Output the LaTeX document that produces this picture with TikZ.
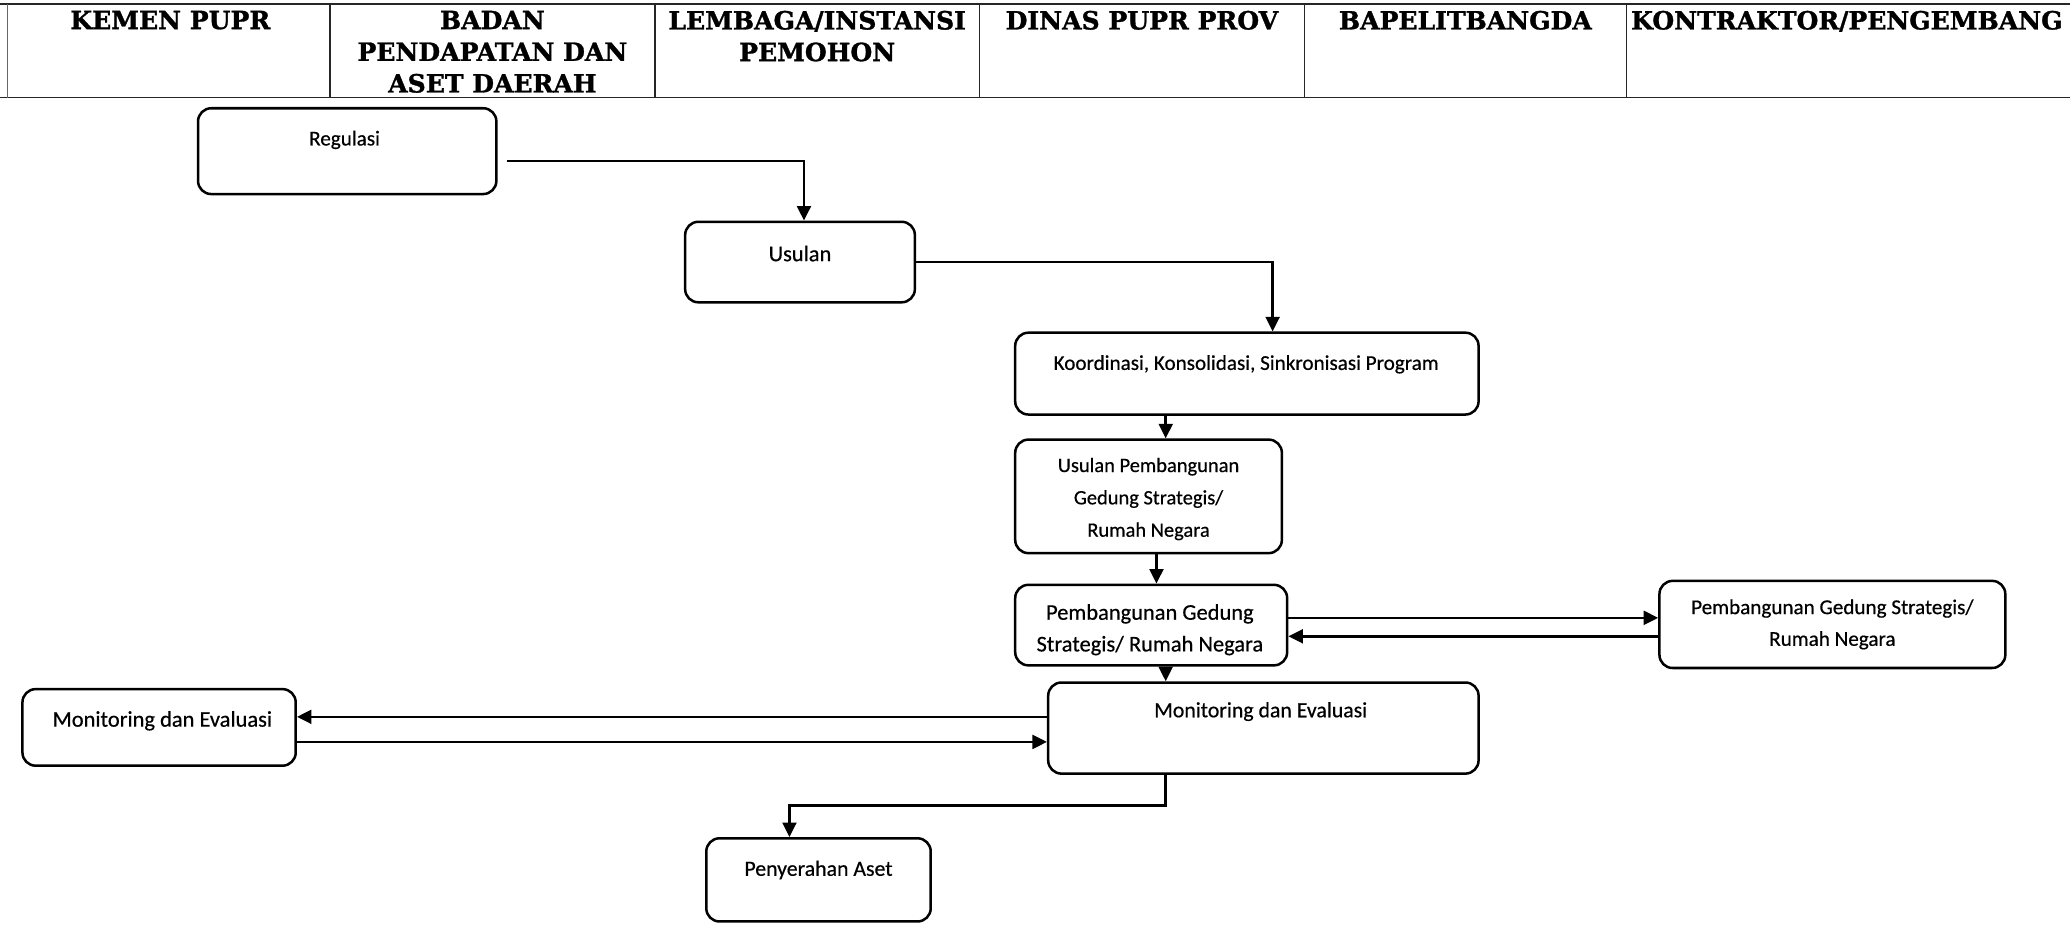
\documentclass[tikz,border=0pt]{standalone}
\usepackage{fontspec}
\setmainfont{Carlito}[FakeBold=0.5]
\newfontfamily\headfont{DejaVu Serif}[BoldFeatures={FakeBold=1.2}]
\usetikzlibrary{arrows.meta,calc}
\begin{document}
\begin{tikzpicture}[x=1pt,y=-1pt,
  lanerule/.style={line width=1.1pt,draw=black!85},
  headtxt/.style={font=\headfont\bfseries\fontsize{19}{24}\selectfont,align=center,anchor=north,inner sep=0pt},
  procbox/.style={draw,line width=1.9pt,rounded corners=10pt,inner sep=0pt},
  boxtxt/.style={font=\fontsize{16}{25}\selectfont,align=center,inner sep=0pt},
  conn/.style={line width=1.9pt,-{Triangle[length=11pt,width=10.5pt]}}]
\useasboundingbox (0,0) rectangle (1568,700);

% swimlane header
\draw[lanerule] (0,3) -- (1568,3);
\draw[lanerule] (0,74) -- (1568,74);
\draw[lanerule,line width=0.7pt,draw=black!60] (6,3) -- (6,74);
\foreach \xx in {250,496,742,988,1232}
  \draw[lanerule] (\xx,3) -- (\xx,74);

\node[headtxt] (h1) at (129,8) {KEMEN PUPR};
\node[headtxt] (h2) at (373,8) {BADAN\\PENDAPATAN DAN\\ASET DAERAH};
\node[headtxt] (h3) at (619,8) {LEMBAGA/INSTANSI\\PEMOHON};
\node[headtxt] (h4) at (865,8) {DINAS PUPR PROV};
\node[headtxt] (h5) at (1110,8) {BAPELITBANGDA};
\node[headtxt] (h6) at (1399,8) {KONTRAKTOR/PENGEMBANG};

% process boxes
\node[procbox,minimum width=226pt,minimum height=65pt] (reg) at (263,114.5) {};
\node[boxtxt] (regT) at (261,106) {Regulasi};

\node[procbox,minimum width=174pt,minimum height=61pt] (usl) at (606,198.5) {};
\node[boxtxt,font=\fontsize{17}{25}\selectfont] (uslT) at (606,192) {Usulan};

\node[procbox,minimum width=351pt,minimum height=62pt] (koo) at (944.5,283) {};
\node[boxtxt] (kooT) at (944,276) {Koordinasi, Konsolidasi, Sinkronisasi Program};

\node[procbox,minimum width=202pt,minimum height=86pt] (upg) at (870,376) {};
\node[boxtxt,font=\fontsize{15.5}{24.5}\selectfont] (upgT) at (870,378) {Usulan Pembangunan\\Gedung Strategis/\\Rumah Negara};

\node[procbox,minimum width=206pt,minimum height=61pt] (pgl) at (872,473.5) {};
\node[boxtxt,font=\fontsize{17}{24}\selectfont] (pglT) at (871,477) {Pembangunan Gedung\\Strategis/ Rumah Negara};

\node[procbox,minimum width=262pt,minimum height=66pt] (pgr) at (1388,473) {};
\node[boxtxt,font=\fontsize{16}{24}\selectfont] (pgrT) at (1388,473) {Pembangunan Gedung Strategis/\\Rumah Negara};

\node[procbox,minimum width=326pt,minimum height=69pt] (mec) at (957,551.5) {};
\node[boxtxt,font=\fontsize{16.5}{24}\selectfont] (mecT) at (955,539) {Monitoring dan Evaluasi};

\node[procbox,minimum width=207pt,minimum height=58pt] (mel) at (120.5,551) {};
\node[boxtxt,font=\fontsize{17}{24}\selectfont] (melT) at (123,546) {Monitoring dan Evaluasi};

\node[procbox,minimum width=170pt,minimum height=63pt] (pen) at (620,666.5) {};
\node[boxtxt,font=\fontsize{16.5}{24}\selectfont] (penT) at (620,659) {Penyerahan Aset};

% connectors
\draw[conn] ([shift={(7,7.5)}]reg.east) -| ([xshift=3pt]usl.north);
\draw[conn] (usl.east) -| ([xshift=19.5pt]koo.north);
\draw[conn] (koo.south -| 883,0) -- (upg.north -| 883,0);
\draw[conn] (upg.south -| 876,0) -- (pgl.north -| 876,0);
\draw[conn] (pgl.east |- 0,468) -- (pgr.west |- 0,468);
\draw[conn] (pgr.west |- 0,482) -- (pgl.east |- 0,482);
\draw[conn] (pgl.south -| 883,0) -- (mec.north -| 883,0);
\draw[conn] (mec.west |- 0,543) -- (mel.east |- 0,543);
\draw[conn] (mel.east |- 0,562) -- (mec.west |- 0,562);
\coordinate (bend) at (883,610);
\draw[conn] (mec.south -| bend) -- (bend) -| (pen.north -| 598,0);
\end{tikzpicture}
\end{document}
